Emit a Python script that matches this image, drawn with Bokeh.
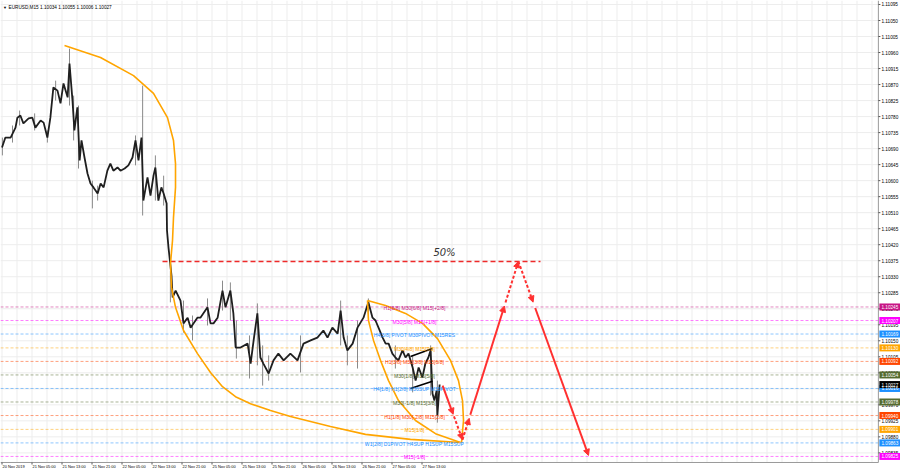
from bokeh.plotting import figure
from bokeh.models import Range1d, Arrow, NormalHead
from bokeh.core.properties import value
from bokeh.embed import file_html
from bokeh.resources import INLINE

# ---------------- data (hours since 20 Nov 21:00, prices) ----------------
bar_hours = [0.0, 0.9, 2.3, 3.6, 4.1, 4.9, 5.7, 7.1, 8.1, 8.9,
             10.3, 11.1, 12.1, 12.9, 13.7, 14.8, 15.6, 16.4, 17.5, 18.0,
             18.8, 19.3, 20.1, 20.7, 21.2, 22.0, 22.8, 23.6, 24.4, 25.5,
             26.3, 27.1, 28.1, 28.9, 29.7, 30.8, 31.6, 32.7, 33.7, 34.8,
             35.6, 36.4, 37.2, 37.7, 38.8, 39.6, 40.4, 40.9, 41.7, 42.5,
             43.1, 43.9, 44.0, 44.4, 45.2, 45.5, 46.3, 47.6, 48.4, 49.5,
             50.3, 51.1, 52.1, 52.9, 54.8, 55.6, 56.4, 57.5, 58.8, 59.6,
             60.9, 61.7, 62.3, 63.6, 65.5, 66.3, 67.1, 68.1, 68.9, 69.7,
             71.1, 72.4, 73.7, 75.1, 76.9, 78.8, 80.4, 82.3, 84.1, 85.7,
             86.8, 88.1, 89.5, 90.3, 91.1, 92.1, 93.5, 94.8, 96.4, 97.7,
             98.8, 99.6, 100.4, 101.5, 102.3, 103.1, 104.1, 104.9, 105.7, 106.8,
             107.6, 108.4, 109.5, 110.3, 111.1, 112.1, 112.9, 113.7, 114.3, 114.8,
             115.3, 115.9, 116.1, 116.7]
closes = [1.10693, 1.10721, 1.10721, 1.10749, 1.10777, 1.10783, 1.10761, 1.10775, 1.10777, 1.10749,
          1.10769, 1.10763, 1.10721, 1.10777, 1.10862, 1.10853, 1.10817, 1.10873, 1.10834, 1.10929,
          1.10825, 1.10741, 1.10806, 1.10657, 1.10713, 1.10665, 1.10620, 1.10592, 1.10581, 1.10564,
          1.10592, 1.10581, 1.10628, 1.10648, 1.10628, 1.10637, 1.10628, 1.10634, 1.10643, 1.10665,
          1.10713, 1.10657, 1.10721, 1.10544, 1.10609, 1.10558, 1.10614, 1.10637, 1.10544, 1.10581,
          1.10564, 1.10536, 1.10460, 1.10412, 1.10333, 1.10272, 1.10291, 1.10263, 1.10199, 1.10215,
          1.10187, 1.10199, 1.10215, 1.10215, 1.10244, 1.10199, 1.10199, 1.10215, 1.10291, 1.10244,
          1.10291, 1.10227, 1.10131, 1.10131, 1.10142, 1.10086, 1.10151, 1.10227, 1.10103, 1.10086,
          1.10058, 1.10095, 1.10114, 1.10095, 1.10114, 1.10095, 1.10142, 1.10151, 1.10159, 1.10179,
          1.10159, 1.10187, 1.10170, 1.10235, 1.10159, 1.10123, 1.10142, 1.10187, 1.10215, 1.10258,
          1.10215, 1.10207, 1.10187, 1.10159, 1.10142, 1.10142, 1.10114, 1.10103, 1.10095, 1.10123,
          1.10103, 1.10114, 1.10075, 1.10038, 1.10075, 1.10047, 1.10086, 1.10103, 1.10123, 1.10002,
          1.09982, 1.10010, 1.09940, 1.10027]

# wick ranges read at the visible spikes
wick_hours = [0.1, 2.8, 4.7, 8.7, 12.1, 14.3, 18.0, 19.1, 20.4, 24.1,
              25.5, 35.6, 37.5, 40.9, 43.1, 44.9, 48.4, 50.8, 54.8, 58.8,
              60.9, 62.5, 66.0, 68.1, 69.5, 71.1, 79.6, 90.3, 92.1, 94.8,
              97.7, 104.9, 109.5, 114.3, 116.1]
wick_high = [1.10721, 1.10755, 1.10797, 1.10789, 1.10741, 1.10881, 1.10971, 1.10839, 1.10811, 1.10600,
             1.10586, 1.10727, 1.10867, 1.10671, 1.10614, 1.10347, 1.10263, 1.10221, 1.10269, 1.10319,
             1.10314, 1.10207, 1.10165, 1.10255, 1.10137, 1.10109, 1.10165, 1.10263, 1.10165, 1.10207,
             1.10269, 1.10137, 1.10109, 1.10137, 1.10038]
wick_low = [1.10671, 1.10707, 1.10755, 1.10741, 1.10707, 1.10825, 1.10811, 1.10713, 1.10634, 1.10522,
            1.10544, 1.10643, 1.10502, 1.10544, 1.10530, 1.10258, 1.10173, 1.10151, 1.10193, 1.10235,
            1.10207, 1.10100, 1.10044, 1.10081, 1.10024, 1.10038, 1.10061, 1.10137, 1.10081, 1.10072,
            1.10213, 1.10072, 1.10005, 1.09996, 1.09920]

level_prices = [1.10245, 1.10207, 1.10169, 1.10130, 1.10092, 1.10054,
                1.10016, 1.09978, 1.09940, 1.09901, 1.09863, 1.09825]
level_texts = ["H1[8/8] M30[6/8] M15[+2/8]", "M30[5/8] M15[+1/8]",
               "H4[3/8] PIVOT M30PIVOT M15RES", "M30[4/8] M15[7/8]",
               "H1[3/8] M30[3/8] M15[6/8]", "M30[1/8] M15[5/8]",
               "H4[1/8] H1[2/8] M30SUP M15PIVOT", "M30[-1/8] M15[3/8]",
               "H1[1/8] M30[-2/8] M15[2/8]", "M15[1/8]",
               "W1[2/8] D1PIVOT H4SUP H1SUP M15SUP", "M15[-1/8]"]
level_colors = ["#c71585", "#ff00ff", "#1e90ff", "#ffa500", "#ff4500", "#556b2f",
                "#1e90ff", "#556b2f", "#ff4500", "#ffa500", "#1e90ff", "#ff00ff"]
current_price = 1.10027

price_ticks = [1.11095, 1.11050, 1.11005, 1.10960, 1.10915, 1.10870, 1.10825, 1.10780,
               1.10735, 1.10690, 1.10645, 1.10600, 1.10555, 1.10510, 1.10465, 1.10420,
               1.10375, 1.10330, 1.10285, 1.10240, 1.10195, 1.10150, 1.10105, 1.10060,
               1.10015, 1.09970, 1.09925, 1.09880, 1.09835]
time_ticks = [0, 8, 16, 24, 32, 40, 48, 56, 64, 72, 80, 88, 96, 104, 112]
time_labels = ["20 Nov 2019", "21 Nov 05:00", "21 Nov 13:00", "21 Nov 21:00", "22 Nov 05:00",
               "22 Nov 13:00", "22 Nov 21:00", "25 Nov 05:00", "25 Nov 13:00", "25 Nov 21:00",
               "26 Nov 05:00", "26 Nov 13:00", "26 Nov 21:00", "27 Nov 05:00", "27 Nov 13:00"]

# big orange arc
arc_t = [16.67, 26.27, 35.07, 40.40, 44.13, 45.73, 46.27, 46.27, 45.73, 45.47, 44.93, 45.20,
         46.27, 48.40, 52.13, 55.60, 58.80, 62.27, 66.27, 71.60, 76.93, 87.60, 96.93, 108.93, 122.27]
arc_p = [1.10980, 1.10946, 1.10895, 1.10845, 1.10777, 1.10713, 1.10648, 1.10581, 1.10496, 1.10432,
         1.10367, 1.10300, 1.10244, 1.10179, 1.10114, 1.10061, 1.10021, 1.09993, 1.09973, 1.09954,
         1.09937, 1.09909, 1.09887, 1.09873, 1.09864]
leaf_left_t = [97.47, 97.73, 99.07, 100.93, 103.07, 105.73, 110.27, 115.60, 122.27]
leaf_left_p = [1.10263, 1.10207, 1.10151, 1.10095, 1.10038, 1.09982, 1.09926, 1.09889, 1.09864]
leaf_right_t = [97.47, 102.27, 107.60, 112.13, 116.13, 119.60, 121.73, 122.80, 123.07, 122.53]
leaf_right_p = [1.10263, 1.10249, 1.10227, 1.10199, 1.10156, 1.10095, 1.10038, 1.09982, 1.09926, 1.09864]

trend_upper_t = [108.93, 114.80]
trend_upper_p = [1.10106, 1.10128]
trend_lower_t = [108.93, 114.80]
trend_lower_p = [1.10016, 1.10036]

fifty_price = 1.10373
fifty_t = [42.8, 143.6]

path_t = [117.5, 122.8, 137.7, 156.4]
path_p = [1.10024, 1.09872, 1.10373, 1.09828]

title_text = "EURUSD,M15  1.10034 1.10055 1.10006 1.10027"

# ---------------- layout constants ----------------
T_MIN, T_MAX = -0.4, 239.6
P_MIN, P_MAX = 1.097855, 1.111062
T_EDGE = 233.7        # right edge of chart area
P_EDGE = 1.09808      # bottom edge of chart area
PX = 0.0000281        # price per reference pixel
HX = 1 / 3.75         # hours per reference pixel

FONT = value("Liberation Sans")
FS = "4.7px"

p = figure(width=900, height=470, output_backend="svg", toolbar_location=None,
           x_range=Range1d(T_MIN, T_MAX), y_range=Range1d(P_MIN, P_MAX),
           x_axis_location=None, y_axis_location=None, min_border=0)
p.grid.visible = False
p.outline_line_color = None
p.background_fill_color = "white"
p.border_fill_color = "white"

# grid
grid_t = [4 * k for k in range(0, 59) if 4 * k < T_EDGE]
p.segment(x0=grid_t, y0=[P_EDGE] * len(grid_t), x1=grid_t, y1=[P_MAX] * len(grid_t),
          line_color="#ededed", line_width=1)
p.segment(x0=[T_MIN] * len(price_ticks), y0=price_ticks, x1=[T_EDGE] * len(price_ticks),
          y1=price_ticks, line_color="#ededed", line_width=1)

# level lines
for pr, c in zip(level_prices, level_colors):
    p.segment(x0=[T_MIN], y0=[pr], x1=[T_EDGE], y1=[pr], line_color=c, line_alpha=0.5,
              line_width=1, line_dash="3 2")

# 50% line
p.line(fifty_t, [fifty_price, fifty_price], line_color="#ee2a2a", line_width=1.6, line_dash="5 3")
p.text(x=[118.0], y=[fifty_price + 3 * PX], text=["50%"], text_font=value("DejaVu Sans"),
       text_font_style="italic", text_font_size="10px", text_color="#333333",
       text_align="center", text_baseline="bottom")

# price series
p.segment(x0=wick_hours, y0=wick_low, x1=wick_hours, y1=wick_high,
          line_color="#8a8a8a", line_width=1)
p.line(bar_hours, closes, line_color="#1f1f1f", line_width=1.8)

# orange curves
p.line(arc_t, arc_p, line_color="#ffa500", line_width=1.6)
p.line(leaf_left_t, leaf_left_p, line_color="#ffa500", line_width=1.6)
p.line(leaf_right_t, leaf_right_p, line_color="#ffa500", line_width=1.6)

# black trend lines
p.line(trend_upper_t, trend_upper_p, line_color="black", line_width=1.6)
p.line(trend_lower_t, trend_lower_p, line_color="black", line_width=1.6)

# level texts
p.text(x=[110.0] * len(level_prices), y=level_prices, text=level_texts,
       text_color=level_colors, text_font=FONT, text_font_size="5.1px",
       text_align="center", text_baseline="middle", y_offset=1)

# red arrow path
RED = "#ff3030"
legs = [
    [(0.0, 0.53, None), (0.57, 1.0, "3 2")],
    [(0.0, 0.12, "3 2"), (0.14, 0.75, None), (0.77, 1.0, "3 2")],
    [(0.0, 0.21, "3 2"), (0.24, 1.0, None)],
]
for i, segs in enumerate(legs):
    t0, p0, t1, p1 = path_t[i], path_p[i], path_t[i + 1], path_p[i + 1]
    for a, b, dash in segs:
        xs, ys = t0 + (t1 - t0) * a, p0 + (p1 - p0) * a
        xe, ye = t0 + (t1 - t0) * b, p0 + (p1 - p0) * b
        kw = dict(line_color=RED, line_width=2)
        if dash:
            kw["line_dash"] = dash
        p.add_layout(Arrow(end=NormalHead(size=6, fill_color=RED, line_color=RED),
                           x_start=xs, y_start=ys, x_end=xe, y_end=ye, **kw))

# chart borders
p.segment(x0=[T_EDGE], y0=[P_EDGE], x1=[T_EDGE], y1=[P_MAX], line_color="#9a9a9a", line_width=1)
p.segment(x0=[T_MIN], y0=[P_EDGE], x1=[T_EDGE], y1=[P_EDGE], line_color="#9a9a9a", line_width=1)

# right axis ticks and labels
p.segment(x0=[T_EDGE] * len(price_ticks), y0=price_ticks, x1=[T_EDGE + 2 * HX] * len(price_ticks),
          y1=price_ticks, line_color="#555555", line_width=1)
p.text(x=[T_EDGE + 3 * HX] * len(price_ticks), y=price_ticks,
       text=["%.5f" % v for v in price_ticks], text_font=FONT, text_font_size=FS,
       text_color="black", text_align="left", text_baseline="middle")

# coloured level boxes on the axis
box_prices = level_prices + [current_price]
box_colors = level_colors + ["black"]
p.quad(left=[T_EDGE + 1 * HX] * len(box_prices), right=[T_MAX] * len(box_prices),
       top=[v + 3.5 * PX for v in box_prices], bottom=[v - 3.5 * PX for v in box_prices],
       fill_color=box_colors, line_color=None)
p.text(x=[T_EDGE + 3 * HX] * len(box_prices), y=box_prices,
       text=["%.5f" % v for v in box_prices], text_font=FONT, text_font_size=FS,
       text_color="white", text_align="left", text_baseline="middle")

# time axis
p.segment(x0=time_ticks, y0=[P_EDGE] * len(time_ticks), x1=time_ticks,
          y1=[P_EDGE - 2 * PX] * len(time_ticks), line_color="#555555", line_width=1)
p.text(x=[t + 0.5 * HX for t in time_ticks], y=[P_EDGE - 4.0 * PX] * len(time_ticks),
       text=time_labels, text_font=FONT, text_font_size="3.9px", text_color="black",
       text_align="left", text_baseline="middle")

# title
p.text(x=[T_MIN + 2.5 * HX], y=[P_MAX - 7 * PX], text=["\u25bc"], text_font=FONT,
       text_font_size="4px", text_color="black", text_align="left", text_baseline="middle")
p.text(x=[T_MIN + 8 * HX], y=[P_MAX - 7 * PX], text=[title_text], text_font=FONT,
       text_font_size=FS, text_color="black", text_align="left", text_baseline="middle")

open("out.html", "w").write(file_html(p, INLINE))
